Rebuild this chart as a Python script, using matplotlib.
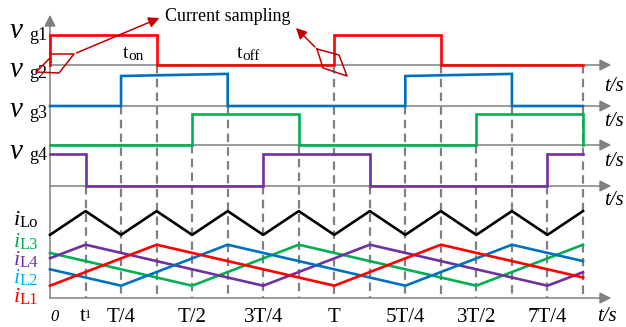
import matplotlib
matplotlib.use("Agg")
import matplotlib.pyplot as plt

# time axis in units of T, switching instants of the four gate signals
t_vg1 = [0, 0, 3/8, 3/8, 1, 1, 11/8, 11/8, 15/8]
v_vg1 = [0, 1, 1, 0, 0, 1, 1, 0, 0]
t_vg2 = [0, 1/4, 1/4, 5/8, 5/8, 5/4, 5/4, 13/8, 13/8, 15/8]
v_vg2 = [0, 0, 1, 1.07, 0, 0, 1, 1.07, 0, 0]
t_vg3 = [0, 1/2, 1/2, 7/8, 7/8, 3/2, 3/2, 15/8, 15/8]
v_vg3 = [0, 0, 1, 1, 0, 0, 1, 1, 0]
t_vg4 = [0, 1/8, 1/8, 3/4, 3/4, 9/8, 9/8, 7/4, 7/4, 15/8]
v_vg4 = [1, 1, 0, 0, 1, 1, 0, 0, 1, 1]

# inductor currents (arbitrary units)
t_iLo = [0, 1/8, 2/8, 3/8, 4/8, 5/8, 6/8, 7/8, 1, 9/8, 10/8, 11/8, 12/8, 13/8, 14/8, 15/8]
i_iLo = [1.54, 2.12, 1.54, 2.12, 1.54, 2.12, 1.54, 2.12, 1.54, 2.12, 1.54, 2.12, 1.54, 2.12, 1.54, 2.12]
t_iL1 = [0, 3/8, 1, 11/8, 15/8]
i_iL1 = [0.3, 1.3, 0.3, 1.3, 0.5]
t_iL2 = [0, 1/4, 5/8, 5/4, 13/8, 15/8]
i_iL2 = [0.7, 0.3, 1.3, 0.3, 1.3, 0.9]
t_iL3 = [0, 1/2, 7/8, 3/2, 15/8]
i_iL3 = [1.1, 0.3, 1.3, 0.3, 1.3]
t_iL4 = [0, 1/8, 3/4, 9/8, 7/4, 15/8]
i_iL4 = [0.97, 1.3, 0.3, 1.3, 0.3, 0.63]

tick_pos = [1/4, 1/2, 3/4, 1, 5/4, 3/2, 7/4]
tick_lab = ["T/4", "T/2", "3T/4", "T", "5T/4", "3T/2", "7T/4"]

# dashed markers: time and which gate baseline they start at
dash_t = [1/8, 1/4, 3/8, 1/2, 5/8, 3/4, 7/8, 1, 9/8, 5/4, 11/8, 3/2, 13/8, 7/4, 15/8]
dash_from = [3, 1, 0, 2, 1, 3, 2, 0, 3, 1, 0, 2, 1, 3, 0]

RED = "#ff0000"
BLUE = "#0070c0"
GREEN = "#00b050"
PURPLE = "#7030a0"
GRAY = "#808080"
DRED = "#c00000"
SERIF = "Liberation Serif"

# layout (pixel-like y units, x in T)
px_T = 284.27
base = [65, 106, 145, 186]
amp = [30, 30, 31, 32]
ibase = 298
k_i = 41

fig = plt.figure(figsize=(6.26, 3.27), dpi=100)
ax = fig.add_axes([0, 0, 1, 1])
ax.set_xlim(-50 / px_T, 576 / px_T)
ax.set_ylim(327, 0)
ax.axis("off")

def tx(px):
    return (px - 50) / px_T

# axes lines with arrows
for yb in base + [ibase]:
    ax.plot([0, tx(603)], [yb, yb], color=GRAY, lw=1.1, zorder=1)
    ax.annotate("", xy=(tx(614), yb), xytext=(tx(598), yb),
                arrowprops=dict(arrowstyle="-|>", color=GRAY, lw=1.1, mutation_scale=17))
ax.plot([0, 0], [ibase, 24], color=GRAY, lw=1.1, zorder=1)
ax.annotate("", xy=(0, 12), xytext=(0, 28),
            arrowprops=dict(arrowstyle="-|>", color=GRAY, lw=1.1, mutation_scale=17))

# dashed guide lines
for t, g in zip(dash_t, dash_from):
    ax.plot([t, t], [base[g], ibase], color=GRAY, lw=1.6, ls=(0, (3.8, 2.4)), zorder=1)

# gate signals
gates = [(t_vg1, v_vg1, RED), (t_vg2, v_vg2, BLUE), (t_vg3, v_vg3, GREEN), (t_vg4, v_vg4, PURPLE)]
for n, (t, v, c) in enumerate(gates):
    ax.plot(t, [base[n] - amp[n] * x for x in v], color=c, lw=1.9, zorder=3,
            solid_joinstyle="miter")

# currents
currents = [(t_iLo, i_iLo, "black"), (t_iL3, i_iL3, GREEN), (t_iL4, i_iL4, PURPLE),
            (t_iL2, i_iL2, BLUE), (t_iL1, i_iL1, RED)]
for t, i, c in currents:
    ax.plot(t, [ibase - k_i * x for x in i], color=c, lw=1.9, zorder=3)

# gate labels
vlab = [("g1", 38), ("g2", 77), ("g3", 117), ("g4", 159)]
for s, yb in vlab:
    ax.text(tx(10), yb, "v", fontsize=21, family=SERIF, style="italic", va="baseline", ha="left")
    ax.text(tx(29), yb + 1.5, s, fontsize=13, family=SERIF, va="baseline", ha="left")

# current labels
ilab = [("Lo", 225, "black"), ("L3", 247, GREEN), ("L4", 265, PURPLE),
        ("L2", 283, "#00b0f0"), ("L1", 302, RED)]
for s, yb, c in ilab:
    ax.text(tx(14), yb, "i", fontsize=16, family=SERIF, style="italic", color=c,
            va="baseline", ha="left")
    ax.text(tx(20), yb + 2, s, fontsize=12, family=SERIF, color=c, va="baseline", ha="left")

# bottom tick labels
ax.text(tx(55), 321, "0", fontsize=12, family=SERIF, style="italic", va="baseline", ha="center")
ax.text(1/8 - tx(53), 321, "t", fontsize=15, family=SERIF, va="baseline", ha="center")
ax.text(1/8 + tx(53), 318, "1", fontsize=9, family=SERIF, va="baseline", ha="center")
for t, s in zip(tick_pos, tick_lab):
    ax.text(t, 322, s, fontsize=15, family=SERIF, va="baseline", ha="center")

# t/s labels
for yb in [91, 126, 166, 205]:
    ax.text(tx(604), yb, "t/s", fontsize=15, family=SERIF, style="italic", va="baseline", ha="left")
ax.text(tx(597), 321, "t/s", fontsize=15, family=SERIF, style="italic", va="baseline", ha="left")

# t_on / t_off
ax.text(tx(123), 58, "t", fontsize=14, family=SERIF, va="baseline", ha="left")
ax.text(tx(128), 60, "on", fontsize=11, family=SERIF, va="baseline", ha="left")
ax.text(tx(237), 58, "t", fontsize=14, family=SERIF, va="baseline", ha="left")
ax.text(tx(242), 60, "off", fontsize=11, family=SERIF, va="baseline", ha="left")

# current sampling annotation
ax.text(tx(165), 21, "Current sampling", fontsize=13, family=SERIF, va="baseline", ha="left")
para1 = [(50, 54), (74, 54), (59, 73), (36, 72), (50, 58)]
ax.plot([tx(p[0]) for p in para1], [p[1] for p in para1], color=DRED, lw=1.1, zorder=4)
ax.annotate("", xy=(tx(162), 17), xytext=(tx(74), 54),
            arrowprops=dict(arrowstyle="-|>", color=DRED, lw=1.1, mutation_scale=16))
para2 = [(317, 49), (339, 55), (347, 76), (323, 68), (317, 49)]
ax.plot([tx(p[0]) for p in para2], [p[1] for p in para2], color=DRED, lw=1.1, zorder=4)
ax.annotate("", xy=(tx(294), 26), xytext=(tx(317), 49),
            arrowprops=dict(arrowstyle="-|>", color=DRED, lw=1.1, mutation_scale=16))

fig.savefig("out.png", dpi=100)
